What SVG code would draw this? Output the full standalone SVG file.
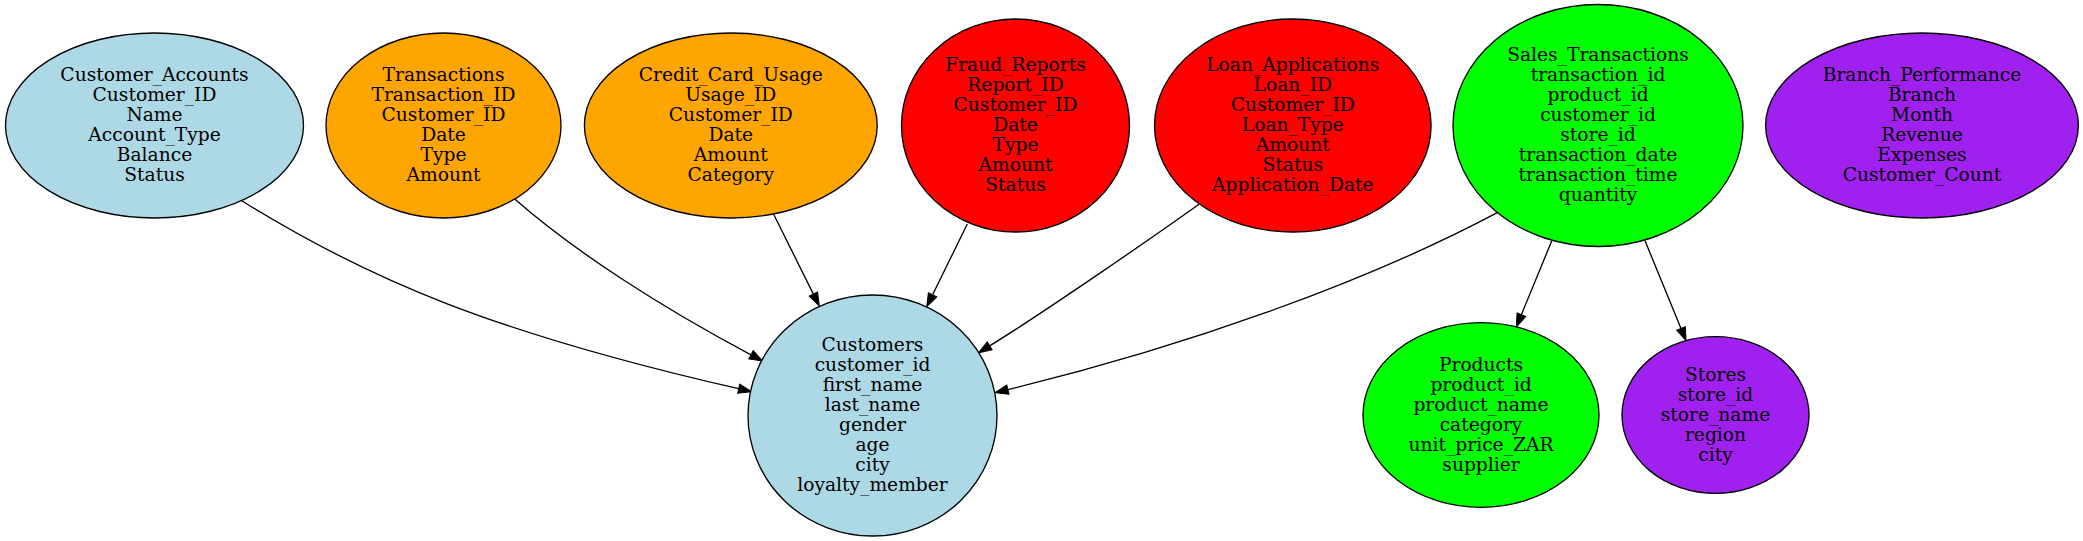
<svg xmlns="http://www.w3.org/2000/svg" width="2083" height="541" viewBox="0 0 2083 541">
<style>
.n ellipse{stroke:#000;stroke-width:1.33}
.n text{font-family:"DejaVu Serif","Liberation Serif",serif;font-size:18.67px;fill:#000;text-anchor:middle}
.e path{fill:none;stroke:#000;stroke-width:1.33;marker-end:url(#ah)}
.blue{fill:#add8e6}.orange{fill:#ffa500}.red{fill:#ff0000}.green{fill:#00ff00}.purple{fill:#a020f0}
</style>
<defs>
<marker id="ah" markerUnits="userSpaceOnUse" markerWidth="15" markerHeight="11" refX="0" refY="4.67" orient="auto" overflow="visible">
<path d="M0,0 L13.3,4.67 L0,9.34 Z" fill="#000" stroke="#000" stroke-width="1"/>
</marker>
</defs>
<rect width="2083" height="541" fill="#fff"/>
<g id="edges" class="e">
<path d="M241.7,200.7 C369,280 495,333 738.7,388.7"/>
<path d="M515,199.3 C575,252 662.7,307.9 751,354.8"/>
<path d="M774,215 L813.4,294.1"/>
<path d="M967.3,224 L932.6,294.8"/>
<path d="M1199,204.3 C1150.2,239.2 1040.7,314.4 989.7,345.9"/>
<path d="M1497.3,212.7 C1364.8,283.1 1182.9,347.3 1007.9,389.6"/>
<path d="M1551.7,241 L1521.4,314.7"/>
<path d="M1645,240.7 L1681,328.4"/>
</g>
<g id="Customer_Accounts" class="n">
<ellipse class="blue" cx="154.5" cy="125.5" rx="149" ry="92.5"/>
<text x="154.5" y="81"><tspan x="154.5">Customer_Accounts</tspan><tspan x="154.5" dy="20">Customer_ID</tspan><tspan x="154.5" dy="20">Name</tspan><tspan x="154.5" dy="20">Account_Type</tspan><tspan x="154.5" dy="20">Balance</tspan><tspan x="154.5" dy="20">Status</tspan></text>
</g>
<g id="Transactions" class="n">
<ellipse class="orange" cx="443.5" cy="125.5" rx="117.5" ry="92.5"/>
<text x="443.5" y="81"><tspan x="443.5">Transactions</tspan><tspan x="443.5" dy="20">Transaction_ID</tspan><tspan x="443.5" dy="20">Customer_ID</tspan><tspan x="443.5" dy="20">Date</tspan><tspan x="443.5" dy="20">Type</tspan><tspan x="443.5" dy="20">Amount</tspan></text>
</g>
<g id="Credit_Card_Usage" class="n">
<ellipse class="orange" cx="730.8" cy="125.5" rx="146.4" ry="92.5"/>
<text x="730.8" y="81"><tspan x="730.8">Credit_Card_Usage</tspan><tspan x="730.8" dy="20">Usage_ID</tspan><tspan x="730.8" dy="20">Customer_ID</tspan><tspan x="730.8" dy="20">Date</tspan><tspan x="730.8" dy="20">Amount</tspan><tspan x="730.8" dy="20">Category</tspan></text>
</g>
<g id="Fraud_Reports" class="n">
<ellipse class="red" cx="1015.5" cy="125.5" rx="114" ry="106.5"/>
<text x="1015.5" y="71"><tspan x="1015.5">Fraud_Reports</tspan><tspan x="1015.5" dy="20">Report_ID</tspan><tspan x="1015.5" dy="20">Customer_ID</tspan><tspan x="1015.5" dy="20">Date</tspan><tspan x="1015.5" dy="20">Type</tspan><tspan x="1015.5" dy="20">Amount</tspan><tspan x="1015.5" dy="20">Status</tspan></text>
</g>
<g id="Loan_Applications" class="n">
<ellipse class="red" cx="1292.8" cy="125.5" rx="138.3" ry="106.5"/>
<text x="1292.8" y="71"><tspan x="1292.8">Loan_Applications</tspan><tspan x="1292.8" dy="20">Loan_ID</tspan><tspan x="1292.8" dy="20">Customer_ID</tspan><tspan x="1292.8" dy="20">Loan_Type</tspan><tspan x="1292.8" dy="20">Amount</tspan><tspan x="1292.8" dy="20">Status</tspan><tspan x="1292.8" dy="20">Application_Date</tspan></text>
</g>
<g id="Sales_Transactions" class="n">
<ellipse class="green" cx="1598" cy="125.5" rx="145" ry="121"/>
<text x="1598" y="61"><tspan x="1598">Sales_Transactions</tspan><tspan x="1598" dy="20">transaction_id</tspan><tspan x="1598" dy="20">product_id</tspan><tspan x="1598" dy="20">customer_id</tspan><tspan x="1598" dy="20">store_id</tspan><tspan x="1598" dy="20">transaction_date</tspan><tspan x="1598" dy="20">transaction_time</tspan><tspan x="1598" dy="20">quantity</tspan></text>
</g>
<g id="Branch_Performance" class="n">
<ellipse class="purple" cx="1922" cy="125.5" rx="156.4" ry="92.5"/>
<text x="1922" y="81"><tspan x="1922">Branch_Performance</tspan><tspan x="1922" dy="20">Branch</tspan><tspan x="1922" dy="20">Month</tspan><tspan x="1922" dy="20">Revenue</tspan><tspan x="1922" dy="20">Expenses</tspan><tspan x="1922" dy="20">Customer_Count</tspan></text>
</g>
<g id="Customers" class="n">
<ellipse class="blue" cx="872.5" cy="415.5" rx="124.5" ry="120.5"/>
<text x="872.5" y="351"><tspan x="872.5">Customers</tspan><tspan x="872.5" dy="20">customer_id</tspan><tspan x="872.5" dy="20">first_name</tspan><tspan x="872.5" dy="20">last_name</tspan><tspan x="872.5" dy="20">gender</tspan><tspan x="872.5" dy="20">age</tspan><tspan x="872.5" dy="20">city</tspan><tspan x="872.5" dy="20">loyalty_member</tspan></text>
</g>
<g id="Products" class="n">
<ellipse class="green" cx="1481" cy="415" rx="118" ry="92.3"/>
<text x="1481" y="370.5"><tspan x="1481">Products</tspan><tspan x="1481" dy="20">product_id</tspan><tspan x="1481" dy="20">product_name</tspan><tspan x="1481" dy="20">category</tspan><tspan x="1481" dy="20">unit_price_ZAR</tspan><tspan x="1481" dy="20">supplier</tspan></text>
</g>
<g id="Stores" class="n">
<ellipse class="purple" cx="1715.5" cy="415" rx="93.5" ry="78.3"/>
<text x="1715.5" y="380.5"><tspan x="1715.5">Stores</tspan><tspan x="1715.5" dy="20">store_id</tspan><tspan x="1715.5" dy="20">store_name</tspan><tspan x="1715.5" dy="20">region</tspan><tspan x="1715.5" dy="20">city</tspan></text>
</g>
</svg>
